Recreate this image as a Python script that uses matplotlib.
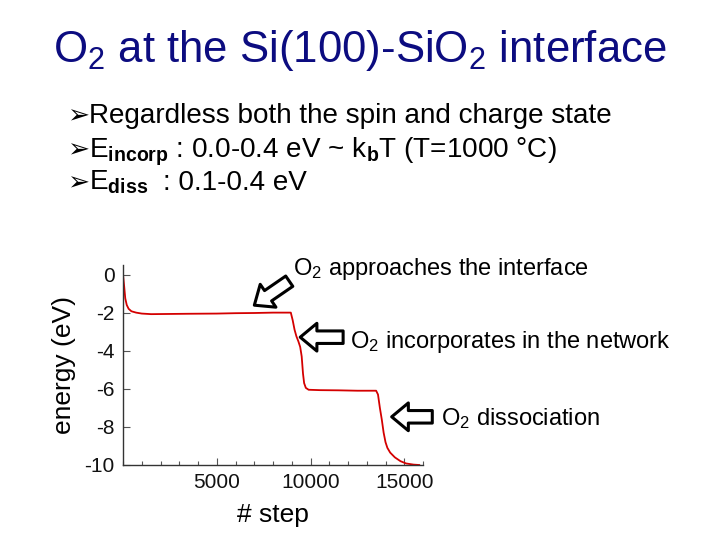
import matplotlib
matplotlib.use("Agg")
import matplotlib.pyplot as plt
from matplotlib.patches import FancyArrowPatch
from matplotlib.ticker import MultipleLocator

plt.rcParams['font.family'] = ['Liberation Sans', 'DejaVu Sans']
plt.rcParams['mathtext.fontset'] = 'custom'
plt.rcParams['mathtext.rm'] = 'Liberation Sans'
plt.rcParams['mathtext.bf'] = 'Liberation Sans:bold'
plt.rcParams['mathtext.it'] = 'Liberation Sans:italic'
plt.rcParams['mathtext.default'] = 'regular'
plt.rcParams['axes.unicode_minus'] = False

# energy vs MD step
steps = [0, 60, 120, 200, 300, 450, 700, 1000, 1500, 2500, 3500, 5000, 6000,
         7000, 8000, 8700, 8950, 9050, 9150, 9250, 9350, 9450, 9530, 9600,
         9660, 9750, 9900, 10500, 11500, 12500, 13300, 13500, 13600, 13700,
         13800, 13900, 14000, 14100, 14250, 14500, 14800, 15100, 15500, 15800]
energy = [0.0, -0.6, -1.25, -1.6, -1.8, -1.93, -2.0, -2.05, -2.08, -2.07,
          -2.06, -2.05, -2.03, -2.02, -2.0, -2.0, -2.0, -2.4, -2.9, -3.25,
          -3.5, -3.8, -4.3, -5.2, -5.7, -5.95, -6.05, -6.07, -6.08, -6.1,
          -6.1, -6.1, -6.3, -7.0, -7.6, -8.3, -8.8, -9.1, -9.35, -9.6, -9.8,
          -9.92, -9.98, -10.0]

yticks = [0, -2, -4, -6, -8, -10]
xticks = [5000, 10000, 15000]

# (tail, tip, label, label position in px)
notes = [
    ((8867, -0.35), (7005, -1.61), r'O$_2$ approaches the interface', (293, 275)),
    ((11740, -3.29), (9452, -3.29), r'O$_2$ incorporates in the network', (350, 348)),
    ((16495, -7.47), (14330, -7.47), r'O$_2$ dissociation', (441, 425)),
]

W, H = 720, 540
fig = plt.figure(figsize=(7.2, 5.4), dpi=100)

def px(x, y):
    return x / W, 1 - y / H

# title and bullets
fig.text(*px(360, 62), r'O$_2$ at the Si(100)-SiO$_2$ interface', ha='center',
         va='baseline', fontsize=31.5, color='#0c0c80')

bullets = [
    (123, 'Regardless both the spin and charge state'),
    (157, r'E$_\mathbf{incorp}$ : 0.0-0.4 eV ~ k$_\mathbf{b}$T (T=1000 °C)'),
    (190, r'E$_\mathbf{diss}$'),
]
for yb, txt in bullets:
    fig.text(*px(67, yb), '\u27a2', family='DejaVu Sans', fontsize=19,
             va='baseline', ha='left', color='black')
    fig.text(*px(89, yb), txt, fontsize=20.1, va='baseline', ha='left', color='black')
fig.text(*px(163, 190), ': 0.1-0.4 eV', fontsize=20.1, va='baseline', ha='left')

# plot
ax = fig.add_axes([123 / W, 75 / H, 300 / W, 200 / H])
ax.plot(steps, energy, color='#d40000', lw=1.3)
ax.set_xlim(0, 16000)
ax.set_ylim(-10, 0.5)
ax.set_yticks(yticks)
ax.set_xticks(xticks)
ax.xaxis.set_minor_locator(MultipleLocator(1000))
for s in ['top', 'right']:
    ax.spines[s].set_visible(False)
for s in ['left', 'bottom']:
    ax.spines[s].set_color('#333333')
    ax.spines[s].set_linewidth(1.0)
ax.tick_params(which='major', direction='in', length=5, width=0.8,
               color='#555555', labelsize=15, labelcolor='#111111', pad=6)
ax.tick_params(which='minor', direction='in', length=3, width=0.8, color='#555555')
ax.tick_params(axis='y', which='minor', left=False)
ax.set_ylabel('energy (eV)', fontsize=19, labelpad=6)
ax.set_xlabel('# step', fontsize=19, labelpad=8)

for tail, tip, label, (lx, ly) in notes:
    arr = FancyArrowPatch(tail, tip, arrowstyle='simple,head_length=12,head_width=20,tail_width=9',
                          mutation_scale=1, facecolor='white', edgecolor='black',
                          linewidth=2.2, shrinkA=0, shrinkB=0, clip_on=False, zorder=5)
    ax.add_patch(arr)
    fig.text(*px(lx, ly), label, fontsize=17, va='baseline', ha='left')

fig.savefig('out.png', dpi=100)
